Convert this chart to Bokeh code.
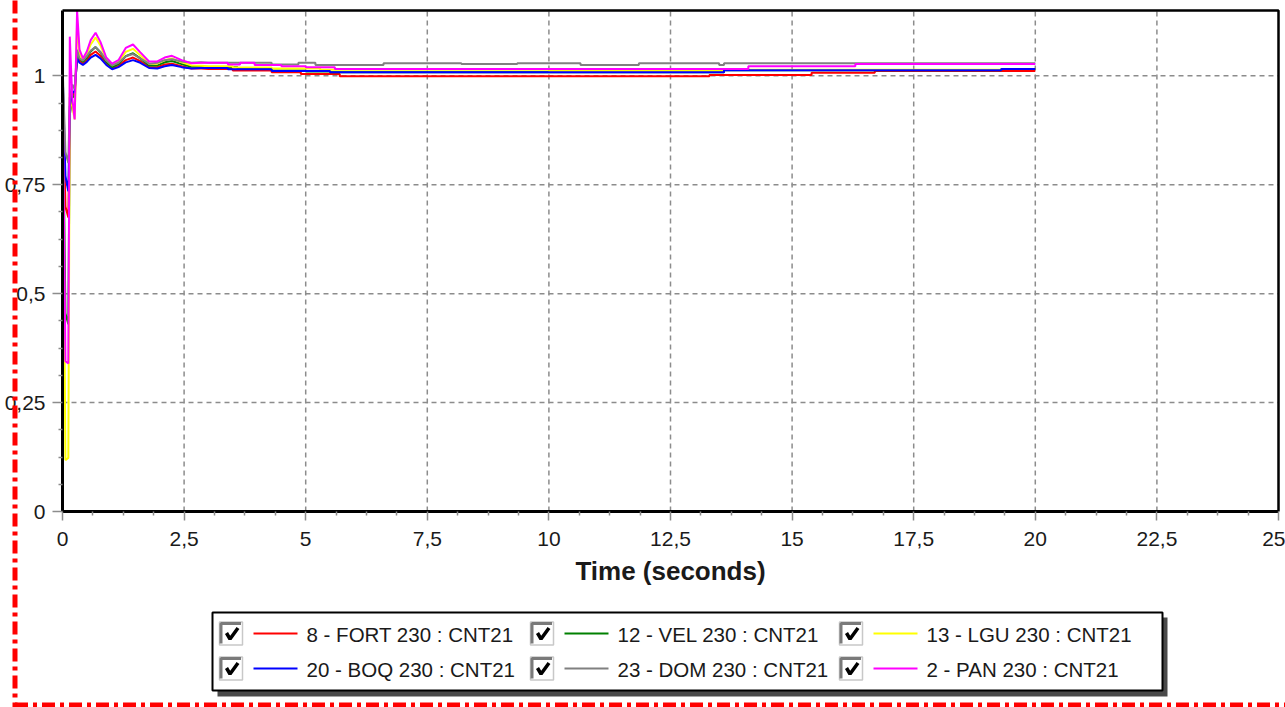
import numpy as np
from bokeh.plotting import figure
from bokeh.models import Range1d, FixedTicker, CustomJSTickFormatter
from bokeh.core.properties import value
from bokeh.embed import file_html
from bokeh.resources import INLINE

# ---------------------------------------------------------------- data ----
SERIES_NAMES = ["8 - FORT 230 : CNT21", "12 - VEL 230 : CNT21", "13 - LGU 230 : CNT21",
                "20 - BOQ 230 : CNT21", "23 - DOM 230 : CNT21", "2 - PAN 230 : CNT21"]
SERIES_COLORS = ["#ff0000", "#008000", "#ffff00", "#0000ff", "#808080", "#ff00ff"]

# dynamic part of the run (common time base, seconds)
T_DYN = [0.0, 0.06, 0.12, 0.15, 0.2, 0.25, 0.3, 0.35, 0.42, 0.5, 0.58, 0.68, 0.78, 0.9,
         1.02, 1.15, 1.3, 1.45, 1.6, 1.78, 1.95, 2.1, 2.25, 2.45, 2.65, 2.85, 3.0]

FORT_DYN = [1.02, 0.70, 0.675, 0.92, 0.955, 0.96, 1.045, 1.035, 1.028, 1.036, 1.048, 1.056, 1.046,
            1.028, 1.017, 1.023, 1.036, 1.042, 1.034, 1.02, 1.02, 1.026, 1.028, 1.022, 1.017, 1.017, 1.016]
VEL_DYN = [1.02, 0.455, 0.43, 0.91, 0.95, 0.955, 1.05, 1.04, 1.032, 1.042, 1.056, 1.066, 1.054,
           1.032, 1.02, 1.027, 1.045, 1.052, 1.04, 1.024, 1.024, 1.031, 1.034, 1.027, 1.021, 1.021, 1.020]
LGU_DYN = [1.02, 0.118, 0.123, 0.96, 0.93, 0.90, 1.12, 1.05, 1.036, 1.05, 1.072, 1.088, 1.07,
           1.038, 1.024, 1.032, 1.055, 1.062, 1.047, 1.028, 1.028, 1.036, 1.04, 1.031, 1.024, 1.023, 1.022]
BOQ_DYN = [1.02, 0.77, 0.735, 0.93, 0.96, 0.965, 1.04, 1.03, 1.025, 1.032, 1.042, 1.048, 1.04,
           1.025, 1.015, 1.02, 1.031, 1.036, 1.03, 1.018, 1.017, 1.022, 1.025, 1.02, 1.017, 1.018, 1.018]
DOM_DYN = [1.03, 0.825, 0.80, 0.95, 0.98, 0.97, 1.06, 1.04, 1.035, 1.045, 1.058, 1.066, 1.055,
           1.035, 1.024, 1.03, 1.045, 1.05, 1.04, 1.028, 1.03, 1.036, 1.038, 1.033, 1.03, 1.031, 1.030]
PAN_DYN = [1.025, 0.345, 0.34, 1.09, 0.95, 0.90, 1.15, 1.06, 1.04, 1.056, 1.082, 1.099, 1.078,
           1.042, 1.028, 1.036, 1.064, 1.072, 1.054, 1.033, 1.033, 1.042, 1.046, 1.036, 1.029, 1.03, 1.030]

# quasi steady part: value held from each time until the next one
FORT_STEP_T = [3.0, 3.5, 4.3, 4.9, 5.7, 13.3, 15.4, 16.7]
FORT_STEP_V = [1.016, 1.012, 1.008, 1.004, 0.999, 1.002, 1.007, 1.011]
VEL_STEP_T = [3.0, 3.6, 4.3, 5.0, 5.5, 13.6, 19.3]
VEL_STEP_V = [1.020, 1.016, 1.012, 1.010, 1.008, 1.013, 1.016]
LGU_STEP_T = [3.0, 3.5, 4.3, 5.3, 10.0, 13.6, 19.3]
LGU_STEP_V = [1.022, 1.019, 1.017, 1.014, 1.011, 1.014, 1.016]
BOQ_STEP_T = [3.0, 3.4, 4.3, 5.5, 13.6, 19.3]
BOQ_STEP_V = [1.018, 1.015, 1.011, 1.008, 1.013, 1.016]
DOM_STEP_T = [3.0, 4.3, 4.85, 5.2, 6.6, 8.2, 9.35, 10.65, 11.85, 13.5, 13.6]
DOM_STEP_V = [1.030, 1.026, 1.030, 1.025, 1.029, 1.027, 1.029, 1.025, 1.029, 1.025, 1.029]
PAN_STEP_T = [3.0, 3.4, 3.65, 3.95, 4.5, 5.0, 5.6, 14.1, 16.3]
PAN_STEP_V = [1.030, 1.026, 1.030, 1.025, 1.022, 1.020, 1.016, 1.022, 1.027]
T_END = 20.0

X_TICKS = [0, 2.5, 5, 7.5, 10, 12.5, 15, 17.5, 20, 22.5, 25]
Y_TICKS = [0, 0.25, 0.5, 0.75, 1]
X_MAX, Y_MAX = 25.0, 1.15

DYN = [FORT_DYN, VEL_DYN, LGU_DYN, BOQ_DYN, DOM_DYN, PAN_DYN]
STEP_T = [FORT_STEP_T, VEL_STEP_T, LGU_STEP_T, BOQ_STEP_T, DOM_STEP_T, PAN_STEP_T]
STEP_V = [FORT_STEP_V, VEL_STEP_V, LGU_STEP_V, BOQ_STEP_V, DOM_STEP_V, PAN_STEP_V]

# ------------------------------------------------------------- layout ----
# the canvas is one frame; the chart box sits inside it and the axes are
# pinned to the data origin, which leaves room for the legend underneath
W, H = 1285, 707
BOX_L, BOX_R, BOX_T, BOX_B = 62, 1278, 10, 511
FONT = "Liberation Sans"
TEXT_COLOR = "#1a1a1a"
GRID_COLOR = "#8c8c8c"

ppx = (BOX_R - BOX_L) / X_MAX
ppy = (BOX_B - BOX_T) / Y_MAX
x_range = Range1d(-BOX_L / ppx, X_MAX + (W - BOX_R) / ppx)
y_range = Range1d(-(H - BOX_B) / ppy, Y_MAX + BOX_T / ppy)

p = figure(width=W, height=H, output_backend="svg", toolbar_location=None,
           x_range=x_range, y_range=y_range,
           min_border_left=0, min_border_right=0, min_border_top=0, min_border_bottom=0)
p.extra_x_ranges = {"px": Range1d(0, W)}
p.extra_y_ranges = {"px": Range1d(H, 0)}
PX = dict(x_range_name="px", y_range_name="px")

p.background_fill_color = "white"
p.border_fill_color = "white"
p.outline_line_color = None
p.grid.visible = False


def minor_between(ticks, n=4):
    out = []
    for a, b in zip(ticks[:-1], ticks[1:]):
        out.extend(np.linspace(a, b, n + 1)[1:-1].tolist())
    return out


fmt = CustomJSTickFormatter(code="return tick.toString().replace('.', ',')")

xa = p.xaxis[0]
xa.fixed_location = 0
xa.bounds = (0, X_MAX)
xa.ticker = FixedTicker(ticks=X_TICKS, minor_ticks=minor_between(X_TICKS))
xa.axis_label = "Time (seconds)"
xa.axis_label_text_font = FONT
xa.axis_label_text_font_size = "26px"
xa.axis_label_text_font_style = "bold"
xa.axis_label_text_color = TEXT_COLOR
xa.axis_label_standoff = 7
xa.major_label_standoff = 11
xa.major_tick_out = 9

ya = p.yaxis[0]
ya.fixed_location = 0
ya.bounds = (0, Y_MAX)
ya.ticker = FixedTicker(ticks=Y_TICKS, minor_ticks=minor_between(Y_TICKS))
ya.major_label_standoff = 7
ya.major_tick_out = 10

for ax in (xa, ya):
    ax.formatter = fmt
    ax.major_tick_in = 0
    ax.minor_tick_out = 4
    ax.minor_tick_in = 0
    ax.axis_line_color = "black"
    ax.axis_line_width = 3
    ax.major_tick_line_color = GRID_COLOR
    ax.major_tick_line_width = 1.5
    ax.minor_tick_line_color = GRID_COLOR
    ax.minor_tick_line_width = 1.5
    ax.major_label_text_font = FONT
    ax.major_label_text_font_size = "21px"
    ax.major_label_text_color = TEXT_COLOR

# dashed grid inside the chart box
gx = [t for t in X_TICKS if 0 < t < X_MAX]
gy = [t for t in Y_TICKS if 0 < t < Y_MAX]
p.segment(x0=gx, y0=[0] * len(gx), x1=gx, y1=[Y_MAX] * len(gx),
          line_color=GRID_COLOR, line_width=1.5, line_dash="5 4")
p.segment(x0=[0] * len(gy), y0=gy, x1=[X_MAX] * len(gy), y1=gy,
          line_color=GRID_COLOR, line_width=1.5, line_dash="5 4")

# ------------------------------------------------------------- curves ----
for dyn, st, sv, color in zip(DYN, STEP_T, STEP_V, SERIES_COLORS):
    xs = list(T_DYN)
    ys = list(dyn)
    bounds = list(st) + [T_END]
    for i, v in enumerate(sv):
        xs += [bounds[i], bounds[i + 1]]
        ys += [v, v]
    p.line(xs, ys, line_color=color, line_width=2)

# top and right edges of the chart box
p.line([0, X_MAX, X_MAX], [Y_MAX, Y_MAX, 0], line_color="black", line_width=2.5)

# ------------------------------------------------------------- legend ----
LX0, LY0, LX1, LY1 = 212, 612, 1162, 690
p.quad(left=LX0 + 5, right=LX1 + 5, top=LY0 + 5, bottom=LY1 + 6,
       fill_color="#4a4a4a", line_color=None, **PX)
p.quad(left=LX0, right=LX1, top=LY0, bottom=LY1,
       fill_color="white", line_color="black", line_width=2, **PX)

ROW_Y = [633, 668]
COL_X = [219, 530, 839]
cxs = [COL_X[i % 3] for i in range(len(SERIES_NAMES))]
cys = [ROW_Y[i // 3] for i in range(len(SERIES_NAMES))]
cxa = np.array(cxs, dtype=float)
cya = np.array(cys, dtype=float)

# check boxes
p.quad(left=cxa, right=cxa + 23, top=cya - 11.5, bottom=cya + 11.5,
       fill_color="white", line_color="#c8c8c8", line_width=1.5, **PX)
p.multi_line(xs=[[x + 1.5, x + 1.5, x + 21.5] for x in cxs],
             ys=[[y + 10, y - 10, y - 10] for y in cys],
             line_color="#7a7a7a", line_width=3, **PX)
p.multi_line(xs=[[x + 7, x + 10.5, x + 18.5] for x in cxs],
             ys=[[y - 0.5, y + 5.5, y - 5.5] for y in cys],
             line_color="black", line_width=3.5, **PX)

# line samples and captions
p.segment(x0=cxa + 34, y0=cya, x1=cxa + 78, y1=cya,
          line_color=SERIES_COLORS, line_width=2, **PX)
p.text(x=cxa + 87, y=cya + 1, text=SERIES_NAMES, text_font=value(FONT),
       text_font_size="20.5px", text_color=TEXT_COLOR,
       text_baseline="middle", text_align="left", **PX)

# red dash-dot page border
border = p.segment(x0=[14.5, 14.5], y0=[0, 704.5], x1=[14.5, W], y1=[H, 704.5],
                   line_color="#ff0000", line_width=5, line_dash="13 5 4 5", **PX)
border.level = "overlay"

open("out.html", "w").write(file_html(p, INLINE))
